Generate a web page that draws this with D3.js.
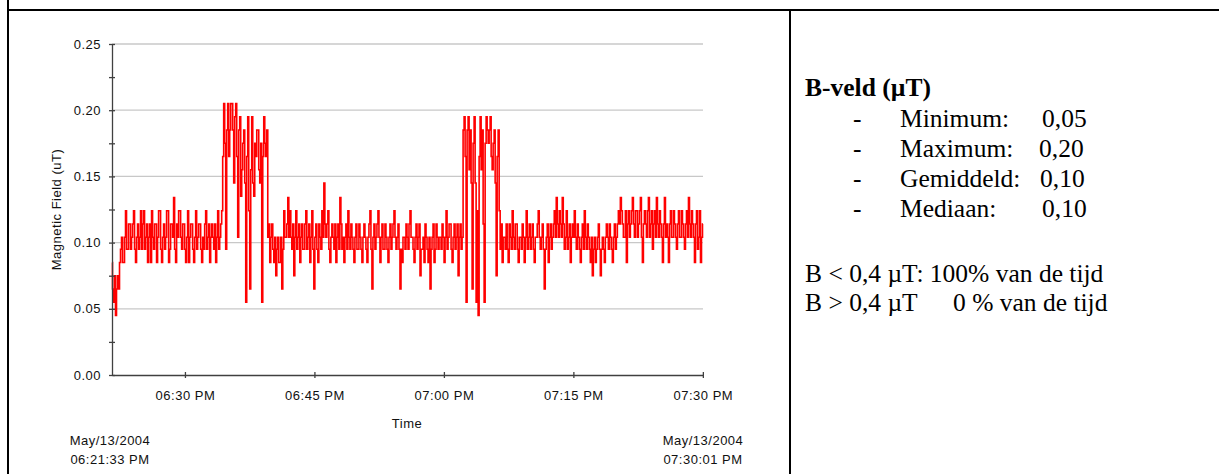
<!DOCTYPE html>
<html>
<head>
<meta charset="utf-8">
<script src="https://cdn.jsdelivr.net/npm/d3@7"></script>
<style>
  body { margin: 0; background: #fff; }
</style>
</head>
<body>
<div id="chart"></div>
<script>
const width = 1219;
const height = 474;

// recording window
const startTime = new Date(2004, 4, 13, 18, 21, 33);
const endTime = new Date(2004, 4, 13, 19, 30, 1);

const yTicks = [0, 0.025, 0.05, 0.075, 0.1, 0.125, 0.15, 0.175, 0.2, 0.225, 0.25];
const yGrid = [0.05, 0.1, 0.15, 0.2, 0.25];
const xTicks = [
  new Date(2004, 4, 13, 18, 30),
  new Date(2004, 4, 13, 18, 45),
  new Date(2004, 4, 13, 19, 0),
  new Date(2004, 4, 13, 19, 15),
  new Date(2004, 4, 13, 19, 30)
];
const startLabel = ["May/13/2004", "06:21:33 PM"];
const endLabel = ["May/13/2004", "07:30:01 PM"];

// B-field readings (uT), evenly sampled between startTime and endTime
const fieldValues = [
  0.085, 0.065, 0.055, 0.075, 0.045, 0.065, 0.075, 0.065, 0.085, 0.095, 0.104, 0.085, 0.085, 0.104, 0.124, 0.095, 0.095, 0.114, 0.114, 0.095,
  0.104, 0.114, 0.124, 0.095, 0.085, 0.104, 0.114, 0.095, 0.104, 0.124, 0.095, 0.114, 0.124, 0.095, 0.104, 0.114, 0.085, 0.104, 0.114, 0.085,
  0.124, 0.104, 0.095, 0.114, 0.114, 0.085, 0.104, 0.124, 0.124, 0.095, 0.085, 0.104, 0.114, 0.095, 0.104, 0.124, 0.124, 0.085, 0.095, 0.114,
  0.114, 0.104, 0.134, 0.095, 0.085, 0.114, 0.104, 0.124, 0.124, 0.104, 0.095, 0.114, 0.114, 0.095, 0.085, 0.104, 0.124, 0.085, 0.104, 0.114,
  0.114, 0.095, 0.085, 0.104, 0.124, 0.095, 0.104, 0.114, 0.114, 0.095, 0.085, 0.104, 0.095, 0.114, 0.124, 0.095, 0.104, 0.114, 0.085, 0.104,
  0.114, 0.104, 0.095, 0.114, 0.085, 0.104, 0.124, 0.095, 0.104, 0.114, 0.124, 0.165, 0.205, 0.175, 0.095, 0.185, 0.205, 0.165, 0.185, 0.205,
  0.205, 0.185, 0.145, 0.195, 0.205, 0.165, 0.104, 0.185, 0.195, 0.135, 0.155, 0.175, 0.185, 0.145, 0.055, 0.165, 0.195, 0.124, 0.065, 0.155,
  0.195, 0.145, 0.135, 0.175, 0.165, 0.185, 0.185, 0.155, 0.145, 0.175, 0.055, 0.165, 0.195, 0.175, 0.165, 0.185, 0.104, 0.114, 0.085, 0.104,
  0.114, 0.095, 0.085, 0.104, 0.075, 0.095, 0.104, 0.085, 0.085, 0.104, 0.065, 0.095, 0.124, 0.104, 0.104, 0.114, 0.134, 0.104, 0.124, 0.104,
  0.095, 0.114, 0.075, 0.104, 0.124, 0.095, 0.104, 0.114, 0.085, 0.104, 0.114, 0.095, 0.095, 0.114, 0.124, 0.095, 0.104, 0.114, 0.085, 0.104,
  0.124, 0.095, 0.065, 0.104, 0.114, 0.095, 0.085, 0.114, 0.104, 0.095, 0.124, 0.104, 0.145, 0.114, 0.104, 0.114, 0.124, 0.095, 0.085, 0.104,
  0.114, 0.104, 0.095, 0.114, 0.085, 0.104, 0.114, 0.095, 0.134, 0.114, 0.095, 0.104, 0.085, 0.104, 0.114, 0.095, 0.124, 0.104, 0.095, 0.114,
  0.104, 0.095, 0.085, 0.104, 0.114, 0.095, 0.095, 0.114, 0.104, 0.095, 0.085, 0.104, 0.114, 0.104, 0.095, 0.085, 0.104, 0.114, 0.124, 0.095,
  0.065, 0.104, 0.114, 0.095, 0.104, 0.114, 0.124, 0.104, 0.085, 0.104, 0.114, 0.095, 0.095, 0.114, 0.104, 0.095, 0.085, 0.104, 0.114, 0.095,
  0.104, 0.114, 0.124, 0.104, 0.095, 0.104, 0.114, 0.095, 0.065, 0.095, 0.085, 0.104, 0.104, 0.095, 0.114, 0.104, 0.095, 0.114, 0.124, 0.104,
  0.104, 0.095, 0.085, 0.104, 0.114, 0.095, 0.104, 0.114, 0.075, 0.095, 0.095, 0.104, 0.085, 0.114, 0.104, 0.095, 0.085, 0.104, 0.065, 0.095,
  0.104, 0.114, 0.085, 0.095, 0.114, 0.104, 0.095, 0.104, 0.104, 0.095, 0.114, 0.104, 0.085, 0.104, 0.124, 0.095, 0.104, 0.114, 0.114, 0.095,
  0.085, 0.104, 0.114, 0.095, 0.104, 0.114, 0.075, 0.104, 0.114, 0.095, 0.104, 0.185, 0.195, 0.165, 0.055, 0.185, 0.195, 0.155, 0.185, 0.145,
  0.065, 0.175, 0.195, 0.145, 0.055, 0.124, 0.045, 0.165, 0.195, 0.155, 0.185, 0.114, 0.055, 0.175, 0.195, 0.185, 0.175, 0.185, 0.195, 0.165,
  0.155, 0.175, 0.185, 0.145, 0.075, 0.165, 0.185, 0.124, 0.095, 0.114, 0.085, 0.104, 0.104, 0.095, 0.114, 0.095, 0.085, 0.114, 0.104, 0.095,
  0.124, 0.104, 0.095, 0.114, 0.114, 0.095, 0.085, 0.104, 0.104, 0.095, 0.114, 0.104, 0.085, 0.104, 0.124, 0.095, 0.104, 0.114, 0.095, 0.104,
  0.114, 0.095, 0.085, 0.104, 0.104, 0.114, 0.124, 0.104, 0.095, 0.104, 0.114, 0.095, 0.065, 0.095, 0.104, 0.114, 0.085, 0.104, 0.114, 0.095,
  0.104, 0.114, 0.124, 0.104, 0.134, 0.114, 0.104, 0.124, 0.114, 0.104, 0.134, 0.114, 0.095, 0.104, 0.124, 0.095, 0.104, 0.114, 0.085, 0.104,
  0.114, 0.104, 0.124, 0.104, 0.095, 0.114, 0.104, 0.095, 0.085, 0.104, 0.114, 0.095, 0.124, 0.104, 0.095, 0.114, 0.104, 0.095, 0.085, 0.104,
  0.075, 0.095, 0.104, 0.085, 0.095, 0.104, 0.114, 0.095, 0.075, 0.095, 0.104, 0.095, 0.085, 0.104, 0.114, 0.104, 0.095, 0.114, 0.104, 0.095,
  0.085, 0.104, 0.114, 0.095, 0.104, 0.114, 0.124, 0.114, 0.134, 0.124, 0.114, 0.104, 0.104, 0.124, 0.085, 0.114, 0.124, 0.104, 0.114, 0.124,
  0.134, 0.114, 0.104, 0.124, 0.124, 0.104, 0.114, 0.124, 0.134, 0.104, 0.085, 0.114, 0.124, 0.114, 0.104, 0.124, 0.134, 0.104, 0.114, 0.124,
  0.095, 0.114, 0.124, 0.104, 0.134, 0.114, 0.104, 0.124, 0.114, 0.104, 0.085, 0.114, 0.134, 0.104, 0.114, 0.104, 0.085, 0.114, 0.124, 0.104,
  0.104, 0.124, 0.114, 0.104, 0.095, 0.114, 0.124, 0.104, 0.104, 0.124, 0.114, 0.104, 0.095, 0.114, 0.124, 0.104, 0.134, 0.114, 0.104, 0.124,
  0.114, 0.104, 0.085, 0.114, 0.124, 0.095, 0.104, 0.124, 0.085, 0.104, 0.114
];

const statNames = ["Minimum:", "Maximum:", "Gemiddeld:", "Mediaan:"];
const statValues = ["0,05", "0,20", "0,10", "0,10"];
const statValueX = [1042, 1039, 1040, 1042];

const svg = d3
  .select("#chart")
  .append("svg")
  .attr("width", width)
  .attr("height", height);

const sans = "'Liberation Sans', Arial, sans-serif";
const serif = "'Liberation Serif', 'Times New Roman', serif";

// frame
const frame = svg.append("g").attr("stroke", "#000").attr("stroke-width", 2);
frame.append("line").attr("x1", 8).attr("x2", width).attr("y1", 10).attr("y2", 10);
frame.append("line").attr("x1", 8).attr("x2", 8).attr("y1", 0).attr("y2", height);
frame.append("line").attr("x1", 790).attr("x2", 790).attr("y1", 10).attr("y2", height);

const x = d3.scaleTime().domain([startTime, endTime]).range([112, 703]);
const y = d3.scaleLinear().domain([0, 0.25]).range([375, 44]);

const step = (endTime - startTime) / (fieldValues.length - 1);
const points = fieldValues.map((v, i) => ({
  t: new Date(+startTime + i * step),
  v: v
}));

// grid
svg
  .append("g")
  .selectAll("line")
  .data(yGrid)
  .join("line")
  .attr("x1", x.range()[0])
  .attr("x2", x.range()[1])
  .attr("y1", (d) => y(d))
  .attr("y2", (d) => y(d))
  .attr("stroke", "#c8c8c8")
  .attr("stroke-width", 1.3);

// series
const line = d3
  .line()
  .x((d) => x(d.t))
  .y((d) => y(d.v))
  .curve(d3.curveStep);

svg
  .append("path")
  .datum(points)
  .attr("fill", "none")
  .attr("stroke", "#ff0000")
  .attr("stroke-width", 1.6)
  .attr("d", line);

// axes
const yAxis = svg
  .append("g")
  .attr("transform", `translate(${x.range()[0]},0)`)
  .call(
    d3
      .axisLeft(y)
      .tickValues(yTicks)
      .tickSizeOuter(0)
      .tickPadding(5)
      .tickFormat((d) => (yGrid.includes(d) || d === 0 ? d3.format(".2f")(d) : ""))
  );
yAxis.selectAll(".tick line").attr("x1", -3).attr("x2", 3);

const xAxis = svg
  .append("g")
  .attr("transform", `translate(0,${y(0)})`)
  .call(
    d3
      .axisBottom(x)
      .tickValues(xTicks)
      .tickSizeOuter(0)
      .tickFormat(d3.timeFormat("%I:%M %p"))
  );
xAxis.selectAll(".tick line").attr("y1", -3).attr("y2", 3);
xAxis.selectAll(".tick text").attr("y", 16);

svg
  .selectAll(".domain, .tick line")
  .attr("stroke", "#404040")
  .attr("stroke-width", 1.3);
svg
  .selectAll(".tick text")
  .style("font-family", sans)
  .style("font-size", "13px")
  .style("letter-spacing", "0.5px")
  .attr("fill", "#111");

const labels = svg
  .append("g")
  .style("font-family", sans)
  .style("font-size", "13px")
  .style("letter-spacing", "0.5px")
  .attr("fill", "#111")
  .attr("text-anchor", "middle");

labels.append("text").attr("x", 407).attr("y", 428).text("Time");
labels
  .append("text")
  .attr("transform", `translate(61,${(y(0) + y(0.25)) / 2}) rotate(-90)`)
  .text("Magnetic Field (uT)");

startLabel.forEach((s, i) => {
  labels.append("text").attr("x", 110).attr("y", 445 + i * 19).text(s);
});
endLabel.forEach((s, i) => {
  labels.append("text").attr("x", 703).attr("y", 445 + i * 19).text(s);
});

// statistics panel
const panel = svg
  .append("g")
  .style("font-family", serif)
  .style("font-size", "25.5px")
  .attr("fill", "#000");

panel
  .append("text")
  .attr("x", 805)
  .attr("y", 96)
  .style("font-weight", "bold")
  .text("B-veld (µT)");

statNames.forEach((name, i) => {
  const yy = 126.5 + i * 30.2;
  panel.append("text").attr("x", 853).attr("y", yy).text("-");
  panel.append("text").attr("x", 900).attr("y", yy).text(name);
  panel.append("text").attr("x", statValueX[i]).attr("y", yy).text(statValues[i]);
});

panel.append("text").attr("x", 805).attr("y", 281.5).text("B < 0,4 µT: 100% van de tijd");
const last = panel.append("text").attr("x", 805).attr("y", 310.5);
last.append("tspan").text("B > 0,4 µT");
last.append("tspan").attr("x", 953).text("0 % van de tijd");
</script>
</body>
</html>
